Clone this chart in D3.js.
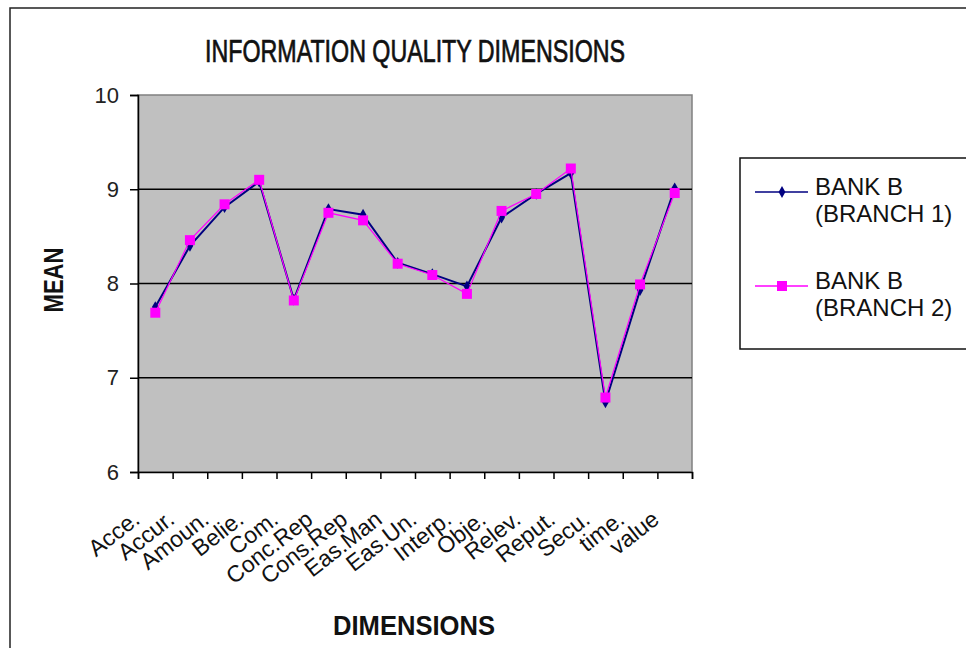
<!DOCTYPE html>
<html>
<head>
<meta charset="utf-8">
<script src="https://cdn.jsdelivr.net/npm/d3@7"></script>
<style>
  body { margin: 0; background: #fff; }
  text { font-family: "Liberation Sans", Arial, sans-serif; }
</style>
</head>
<body>
<div id="chart"></div>
<script>
// categories and means
const dimensions = ["Acce.", "Accur.", "Amoun.", "Belie.", "Com.", "Conc.Rep", "Cons.Rep", "Eas.Man",
    "Eas.Un.", "Interp.", "Obje.", "Relev.", "Reput.", "Secu.", "time.", "value"];
const branch1 = [7.75, 8.40, 8.81, 9.08, 7.83, 8.79, 8.73, 8.22, 8.10, 7.97, 8.70, 8.95, 9.17, 6.74, 7.93, 9.01];
const branch2 = [7.69, 8.46, 8.84, 9.10, 7.82, 8.75, 8.67, 8.21, 8.09, 7.89, 8.77, 8.95, 9.22, 6.79, 7.99, 8.96];
const seriesNames = [["BANK B", "(BRANCH 1)"], ["BANK B", "(BRANCH 2)"]];
const yTicks = [6, 7, 8, 9, 10];

const W = 966, H = 648;
const plot = { left: 138, right: 692, top: 95, bottom: 472 };

const svg = d3.select("#chart")
    .append("svg")
    .attr("width", W)
    .attr("height", H);

// outer chart border (runs off the right and bottom)
svg.append("rect")
    .attr("x", 10).attr("y", 8)
    .attr("width", 1000).attr("height", 700)
    .attr("fill", "none")
    .attr("stroke", "#222")
    .attr("stroke-width", 1.5);

const x = d3.scaleBand()
    .domain(dimensions)
    .range([plot.left, plot.right]);

const y = d3.scaleLinear()
    .domain([6, 10])
    .range([plot.bottom, plot.top]);

// plot background
svg.append("rect")
    .attr("x", plot.left).attr("y", plot.top)
    .attr("width", plot.right - plot.left)
    .attr("height", plot.bottom - plot.top)
    .attr("fill", "#c0c0c0")
    .attr("stroke", "#808080")
    .attr("stroke-width", 1.5);

// gridlines
svg.append("g")
    .selectAll("line")
    .data(yTicks.slice(1, -1))
    .join("line")
    .attr("x1", plot.left).attr("x2", plot.right)
    .attr("y1", d => y(d)).attr("y2", d => y(d))
    .attr("stroke", "#000")
    .attr("stroke-width", 1.5);

// y axis
const yAxis = svg.append("g")
    .attr("transform", `translate(${plot.left},0)`)
    .call(d3.axisLeft(y).tickValues(yTicks).tickFormat(d3.format("d")).tickSize(8).tickPadding(11));
yAxis.selectAll("line, path").attr("stroke", "#000").attr("stroke-width", 1.5);
yAxis.selectAll("text")
    .style("font-size", "22px")
    .attr("fill", "#222");

// x axis: tick marks between categories
const xEdges = d3.scaleLinear().domain([0, dimensions.length]).range([plot.left, plot.right]);
const xAxis = svg.append("g")
    .attr("transform", `translate(0,${plot.bottom})`)
    .call(d3.axisBottom(xEdges).ticks(dimensions.length).tickSize(7).tickFormat(""));
xAxis.selectAll("line, path").attr("stroke", "#000").attr("stroke-width", 1.5);

// x labels, rotated
svg.append("g")
    .selectAll("text")
    .data(dimensions)
    .join("text")
    .attr("transform", d => `translate(${x(d) + x.bandwidth() / 2 - 14},${plot.bottom + 50}) rotate(-38)`)
    .attr("text-anchor", "end")
    .style("font-size", "23px")
    .attr("fill", "#111")
    .text(d => d);

// lines + markers
const line = d3.line()
    .x((d, i) => x(dimensions[i]) + x.bandwidth() / 2)
    .y(d => y(d));

svg.append("path")
    .datum(branch1)
    .attr("d", line)
    .attr("fill", "none")
    .attr("stroke", "#000080")
    .attr("stroke-width", 2);

svg.append("g")
    .selectAll("path")
    .data(branch1)
    .join("path")
    .attr("d", d3.symbol(d3.symbolDiamond, 40))
    .attr("transform", (d, i) => `translate(${x(dimensions[i]) + x.bandwidth() / 2},${y(d)})`)
    .attr("fill", "#000080");

svg.append("path")
    .datum(branch2)
    .attr("d", line)
    .attr("fill", "none")
    .attr("stroke", "#ff00ff")
    .attr("stroke-width", 1.2);

svg.append("g")
    .selectAll("rect")
    .data(branch2)
    .join("rect")
    .attr("x", (d, i) => x(dimensions[i]) + x.bandwidth() / 2 - 5)
    .attr("y", d => y(d) - 5)
    .attr("width", 10).attr("height", 10)
    .attr("fill", "#ff00ff");

// title
svg.append("text")
    .attr("x", 415).attr("y", 62)
    .attr("text-anchor", "middle")
    .attr("textLength", 420)
    .attr("lengthAdjust", "spacingAndGlyphs")
    .style("font-size", "31px")
    .attr("fill", "#111")
    .attr("stroke", "#111")
    .attr("stroke-width", 0.7)
    .text("INFORMATION QUALITY DIMENSIONS");

// axis titles
svg.append("text")
    .attr("transform", "translate(63,280) rotate(-90)")
    .attr("text-anchor", "middle")
    .attr("textLength", 65)
    .attr("lengthAdjust", "spacingAndGlyphs")
    .style("font-size", "27px")
    .style("font-weight", "bold")
    .attr("fill", "#111")
    .text("MEAN");

svg.append("text")
    .attr("x", 414).attr("y", 635)
    .attr("text-anchor", "middle")
    .attr("textLength", 162)
    .attr("lengthAdjust", "spacingAndGlyphs")
    .style("font-size", "27px")
    .style("font-weight", "bold")
    .attr("fill", "#111")
    .text("DIMENSIONS");

// legend
svg.append("rect")
    .attr("x", 740).attr("y", 158)
    .attr("width", 300).attr("height", 191)
    .attr("fill", "#fff")
    .attr("stroke", "#111")
    .attr("stroke-width", 1.5);

const legendRows = [
    { y: 192, color: "#000080", marker: "diamond" },
    { y: 286, color: "#ff00ff", marker: "square" }
];
const lg = svg.append("g")
    .selectAll("g")
    .data(legendRows)
    .join("g")
    .attr("transform", d => `translate(0,${d.y})`);
lg.append("line")
    .attr("x1", 755).attr("x2", 808)
    .attr("stroke", d => d.color)
    .attr("stroke-width", 1.5);
lg.filter(d => d.marker === "diamond").append("path")
    .attr("d", d3.symbol(d3.symbolDiamond, 40))
    .attr("transform", "translate(782,0)")
    .attr("fill", d => d.color);
lg.filter(d => d.marker === "square").append("rect")
    .attr("x", 777).attr("y", -5)
    .attr("width", 10).attr("height", 10)
    .attr("fill", d => d.color);
lg.each(function(d, i) {
    const t = d3.select(this);
    t.append("text")
        .attr("x", 815).attr("y", 3)
        .style("font-size", "24px")
        .attr("fill", "#111")
        .text(seriesNames[i][0]);
    t.append("text")
        .attr("x", 815).attr("y", 30)
        .style("font-size", "24px")
        .attr("fill", "#111")
        .text(seriesNames[i][1]);
});
</script>
</body>
</html>
